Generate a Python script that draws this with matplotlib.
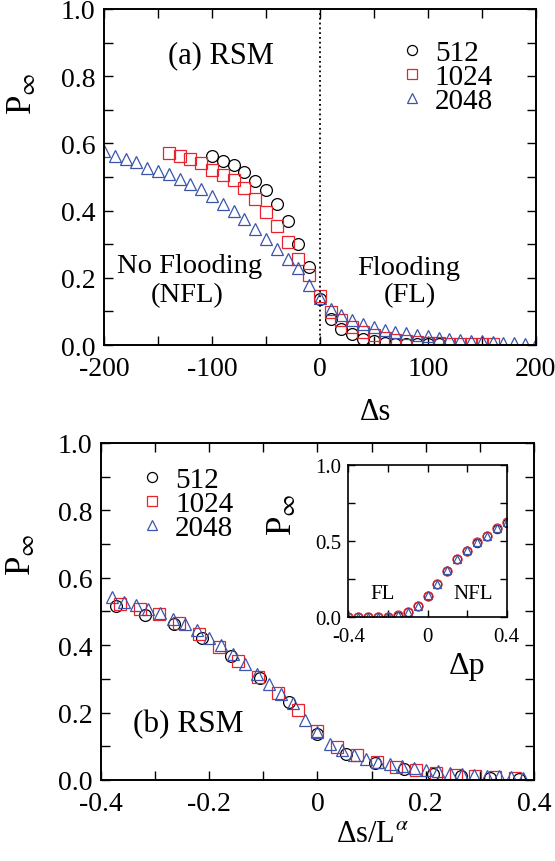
import numpy as np
import matplotlib
matplotlib.use("Agg")
import matplotlib.pyplot as plt
from matplotlib.ticker import MultipleLocator

plt.rcParams['font.family'] = ['Liberation Serif', 'DejaVu Serif']
plt.rcParams['mathtext.fontset'] = 'stix'
plt.rcParams['axes.unicode_minus'] = False

# --- données ---
sizes = ['512', '1024', '2048']

ds_512 = [-100, -90, -80, -70, -60, -50, -40, -30, -20, -10, 0, 10, 20, 30, 40, 50, 60, 70, 80, 90, 100, 110]
P_512 = [0.563, 0.549, 0.537, 0.516, 0.489, 0.462, 0.420, 0.368, 0.302, 0.231, 0.137, 0.076, 0.049, 0.034,
         0.019, 0.011, 0.006, 0.004, 0.003, 0.002, 0.002, 0.002]

ds_1024 = [-140, -130, -120, -110, -100, -90, -80, -70, -60, -50, -40, -30, -20, -10, 0, 10, 20, 30, 40, 50,
           60, 70, 80, 90, 100, 110, 120, 130, 140, 150, 160]
P_1024 = [0.571, 0.563, 0.554, 0.541, 0.522, 0.506, 0.491, 0.467, 0.434, 0.396, 0.354, 0.307, 0.257, 0.208,
          0.145, 0.098, 0.075, 0.053, 0.038, 0.030, 0.021, 0.016, 0.013, 0.009, 0.006, 0.005, 0.004, 0.004,
          0.003, 0.003, 0.002]

ds_2048 = [-200, -190, -180, -170, -160, -150, -140, -130, -120, -110, -100, -90, -80, -70, -60, -50, -40, -30,
           -20, -10, 0, 10, 20, 30, 40, 50, 60, 70, 80, 90, 100, 110, 120, 130, 140, 150, 160, 170, 180, 190, 200]
P_2048 = [0.576, 0.563, 0.554, 0.544, 0.528, 0.518, 0.508, 0.494, 0.479, 0.464, 0.444, 0.420, 0.400, 0.375,
          0.345, 0.315, 0.286, 0.256, 0.228, 0.178, 0.141, 0.108, 0.089, 0.073, 0.062, 0.053, 0.046, 0.040,
          0.035, 0.030, 0.026, 0.022, 0.019, 0.016, 0.013, 0.011, 0.009, 0.007, 0.005, 0.004, 0.003]

L_alpha = {'512': 188.0, '1024': 274.0, '2048': 448.0}

# encart : P en fonction de delta p
dp = [-0.4, -0.35, -0.3, -0.25, -0.2, -0.15, -0.1, -0.05, 0.0, 0.05, 0.1, 0.15, 0.2, 0.25, 0.3, 0.35, 0.4]
P_in_512 = [0.003, 0.003, 0.003, 0.003, 0.004, 0.010, 0.033, 0.074, 0.140, 0.216, 0.303, 0.381, 0.436,
            0.490, 0.534, 0.582, 0.622]
P_in_1024 = [0.003, 0.003, 0.003, 0.003, 0.005, 0.012, 0.035, 0.075, 0.142, 0.218, 0.306, 0.383, 0.437,
             0.492, 0.535, 0.584, 0.623]
P_in_2048 = [0.004, 0.004, 0.004, 0.004, 0.006, 0.013, 0.037, 0.077, 0.144, 0.220, 0.308, 0.385, 0.439,
             0.494, 0.537, 0.586, 0.626]

red = '#e8232b'
blue = '#3a55aa'
styles = {'512': dict(marker='o', mec='k', ms=8.5),
          '1024': dict(marker='s', mec=red, ms=8),
          '2048': dict(marker='^', mec=blue, ms=8.5)}
data = {'512': (ds_512, P_512), '1024': (ds_1024, P_1024), '2048': (ds_2048, P_2048)}

leg_kw = dict(loc='upper left', frameon=False, fontsize=21, handlelength=0.85, handletextpad=0.35,
              labelspacing=-0.08, borderpad=0, borderaxespad=0, numpoints=1, markerscale=0.85)


def style_axes(ax, fs=20, length=6.5):
    ax.tick_params(which='both', direction='in', top=True, right=True, length=length,
                   width=1.0, labelsize=fs)
    ax.tick_params(axis='x', pad=8)
    ax.tick_params(axis='y', pad=6)
    for s in ax.spines.values():
        s.set_linewidth(1.4)


fig = plt.figure(figsize=(5.55, 8.62), dpi=100)

# ---------- panneau (a) ----------
ax1 = fig.add_axes([0.1874, 0.5986, 0.778, 0.3898])
for L in sizes:
    x, y = data[L]
    ax1.plot(x, y, ls='none', mfc='none', mew=0.9, label=L, **styles[L])
ax1.axvline(0, color='k', ls=':', lw=1.3)
ax1.set_xlim(-200, 200)
ax1.set_ylim(0, 1)
ax1.xaxis.set_major_locator(MultipleLocator(100))
ax1.xaxis.set_minor_locator(MultipleLocator(50))
ax1.yaxis.set_major_locator(MultipleLocator(0.2))
ax1.yaxis.set_minor_locator(MultipleLocator(0.1))
ax1.yaxis.set_major_formatter(plt.FormatStrFormatter('%.1f'))
style_axes(ax1)
ax1.set_xlabel('Δs', fontsize=22)
ax1.xaxis.set_label_coords(0.63, -0.155)
ax1.set_ylabel(r'P$_{\infty}$', fontsize=25)
ax1.yaxis.set_label_coords(-0.15, 0.75)
ax1.text(-92, 0.841, '(a) RSM', fontsize=22, ha='center', va='baseline')
ax1.text(-121, 0.217, 'No Flooding', fontsize=20.5, ha='center', va='baseline')
ax1.text(-123, 0.131, '(NFL)', fontsize=20.5, ha='center', va='baseline')
ax1.text(82, 0.211, 'Flooding', fontsize=20.5, ha='center', va='baseline')
ax1.text(83, 0.132, '(FL)', fontsize=20.5, ha='center', va='baseline')
ax1.legend(bbox_to_anchor=(0.685, 0.908), **leg_kw)

# ---------- panneau (b) ----------
ax2 = fig.add_axes([0.182, 0.094, 0.780, 0.391])
for L in sizes:
    x, y = data[L]
    xs = np.array(x) / L_alpha[L]
    m = np.abs(xs) < 0.395
    ax2.plot(xs[m], np.array(y)[m], ls='none', mfc='none', mew=0.9, label=L, **styles[L])
ax2.set_xlim(-0.4, 0.4)
ax2.set_ylim(0, 1)
ax2.xaxis.set_major_locator(MultipleLocator(0.2))
ax2.xaxis.set_minor_locator(MultipleLocator(0.1))
ax2.yaxis.set_major_locator(MultipleLocator(0.2))
ax2.yaxis.set_minor_locator(MultipleLocator(0.1))
ax2.xaxis.set_major_formatter(plt.FuncFormatter(lambda v, p: '0' if abs(v) < 1e-9 else '%.1f' % v))
ax2.yaxis.set_major_formatter(plt.FormatStrFormatter('%.1f'))
style_axes(ax2)
ax2.set_xlabel(r'Δs/L$^{\alpha}$', fontsize=22)
ax2.xaxis.set_label_coords(0.626, -0.115)
ax2.set_ylabel(r'P$_{\infty}$', fontsize=25)
ax2.yaxis.set_label_coords(-0.145, 0.67)
ax2.text(-0.239, 0.146, '(b) RSM', fontsize=22.5, ha='center', va='baseline')
ax2.legend(bbox_to_anchor=(0.09, 0.93), **leg_kw)

# ---------- encart ----------
ax3 = fig.add_axes([0.6276, 0.2827, 0.2854, 0.1767])
ax3.plot(dp, P_in_512, ls='none', marker='o', mfc='none', mec='k', ms=6, mew=0.8)
ax3.plot(dp, P_in_1024, ls='none', marker='o', mfc='none', mec=red, ms=6.5, mew=0.9)
ax3.plot(dp, P_in_2048, ls='none', marker='^', mfc='none', mec=blue, ms=5.5, mew=0.9)
ax3.set_xlim(-0.4, 0.4)
ax3.set_ylim(0, 1)
ax3.set_xticks([-0.4, 0, 0.4])
ax3.set_xticklabels(['-0.4', '0', '0.4'])
ax3.xaxis.set_minor_locator(MultipleLocator(0.2))
ax3.set_yticks([0, 0.5, 1.0])
ax3.set_yticklabels(['0.0', '0.5', '1.0'])
ax3.yaxis.set_minor_locator(MultipleLocator(0.25))
ax3.tick_params(which='both', direction='in', top=True, right=True, length=5, width=1.0,
                labelsize=15)
ax3.tick_params(axis='x', pad=7)
ax3.tick_params(axis='y', pad=5)
for s in ax3.spines.values():
    s.set_linewidth(1.2)
ax3.set_xlabel('Δp', fontsize=23)
ax3.xaxis.set_label_coords(0.75, -0.22)
ax3.set_ylabel(r'P$_{\infty}$', fontsize=25)
ax3.yaxis.set_label_coords(-0.31, 0.68)
ax3.text(-0.225, 0.13, 'FL', fontsize=15, ha='center', va='baseline')
ax3.text(0.23, 0.13, 'NFL', fontsize=15, ha='center', va='baseline')

fig.savefig('out.png', dpi=100)
